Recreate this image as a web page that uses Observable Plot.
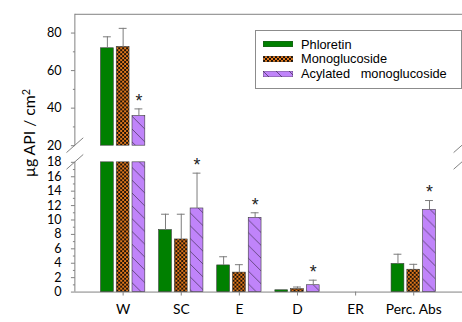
<!DOCTYPE html>
<html><head><meta charset="utf-8">
<script src="https://cdn.jsdelivr.net/npm/d3@7"></script>
<script src="https://cdn.jsdelivr.net/npm/@observablehq/plot@0.6"></script>
<style>
body{margin:0;overflow:hidden;background:#fff;width:462px;height:322px;position:relative}
#chart{position:absolute;left:0;top:0}
#legend{position:absolute;left:255px;top:30px;width:207px;height:59px;border:1px solid #8c8c8c;background:#fff;font-family:"Liberation Sans",Arial,sans-serif;font-size:12.8px;color:#000;box-sizing:border-box}
.row{position:absolute;left:7px;height:14px;display:flex;align-items:center;white-space:nowrap}
.sw{width:30px;height:6px;margin-right:8px;display:block}
</style></head><body>
<div id="chart"></div>
<div id="legend"></div>
<script>
const categories = ["W", "SC", "E", "D", "ER", "Perc. Abs"];
const seriesNames = ["Phloretin", "Monoglucoside", "Acylated monoglucoside"];
const phloretin = [71.9, 8.6, 3.7, 0.25, 0, 3.9];
const phloretinErr = [6.1, 2.2, 1.2, 0, 0, 1.35];
const monoglucoside = [72.6, 7.3, 2.7, 0.4, 0, 3.1];
const monoglucosideErr = [9.9, 3.5, 1.1, 0.3, 0, 0.75];
const acylated = [35.8, 11.6, 10.3, 0.95, 0, 11.4];
const acylatedErr = [3.8, 4.9, 0.7, 0.7, 0, 1.3];
const significant = [true, true, true, true, false, true];
const yTickLabels = [0, 2, 4, 6, 8, 10, 12, 14, 16, 18, 20, 40, 60, 80];
const yMinorTicks = [1, 3, 5, 7, 9, 11, 13, 15, 17, 30, 50, 70];
const breakLow = 18, breakHigh = 20, yMax = 90;

const seriesValues = [phloretin, monoglucoside, acylated];
const seriesErrs = [phloretinErr, monoglucosideErr, acylatedErr];
const fills = ["#008000", "url(#checker)", "url(#hatch)"];
const offsets = [-16, 0, 16];

const marks = [];
seriesValues.forEach((vals, s) => {
  const rows = categories.map((c, i) => ({cat: c, v: vals[i], err: seriesErrs[s][i], sig: significant[i]}));
  const low = rows.filter(d => d.v > 0).map(d => ({cat: d.cat, y1: 0, y2: Math.min(d.v, breakLow)}));
  const high = rows.filter(d => d.v > breakHigh).map(d => ({cat: d.cat, y1: breakHigh, y2: d.v}));
  const common = {x: "cat", y1: "y1", y2: "y2", dx: offsets[s], insetLeft: 23, insetRight: 23, fill: fills[s], stroke: "#3a3a3a", strokeWidth: 0.6};
  marks.push(Plot.barY(low, common));
  marks.push(Plot.barY(high, common));
  const errRows = rows.filter(d => d.err > 0);
  marks.push(Plot.ruleX(errRows, {x: "cat", y1: "v", y2: d => d.v + d.err, dx: offsets[s], stroke: "#7a7a7a", strokeWidth: 1}));
  marks.push(Plot.tickY(errRows, {x: "cat", y: d => d.v + d.err, dx: offsets[s], insetLeft: 25.5, insetRight: 25.5, stroke: "#7a7a7a", strokeWidth: 1}));
  if (s === 2) {
    marks.push(Plot.text(rows.filter(d => d.sig && d.v > 0), {x: "cat", y: d => d.v + d.err, dx: offsets[s], dy: -8, text: () => "*", fontSize: 18, fontFamily: "Liberation Sans", fill: "#222"}));
  }
});

const chart = Plot.plot({
  width: 469, height: 322,
  marginLeft: 76, marginRight: 0, marginTop: 14, marginBottom: 26,
  style: {fontFamily: "Lato, sans-serif", fontSize: "12.5px", background: "white"},
  x: {type: "band", domain: categories, range: [93.5, 450.5], padding: 0},
  y: {type: "linear", domain: [0, breakLow, breakHigh, yMax], range: [296, 164.3, 147.4, 14]},
  marks: [
    Plot.ruleY([0, yMax], {stroke: "#808080"}),
    ...marks,
    Plot.axisX({tickSize: 4, tickPadding: 8, fontSize: 14, label: null, stroke: "#808080"}),
    Plot.axisY({ticks: yTickLabels, tickSize: 4, tickPadding: 10, fontSize: 12.8, stroke: "#808080", label: null}),
    Plot.axisY({ticks: yMinorTicks, tickSize: 2, tickFormat: () => "", stroke: "#808080", label: null})
  ]
});
document.getElementById("chart").appendChild(chart);

const svg = d3.select(chart);

// y-axis title (real text) with superscript
const yTitle = svg.append("text")
  .attr("transform", "translate(36,180) rotate(-90)")
  .attr("text-anchor", "start")
  .attr("font-family", "Lato, sans-serif")
  .attr("font-size", 16)
  .attr("fill", "#000");
yTitle.append("tspan").text("µg API / cm");
yTitle.append("tspan").attr("font-size", 11).attr("dy", -6).text("2");

// patterns
const defs = svg.insert("defs", ":first-child");
const chk = defs.append("pattern").attr("id", "checker").attr("patternUnits", "userSpaceOnUse").attr("width", 4).attr("height", 4);
chk.append("rect").attr("width", 4).attr("height", 4).attr("fill", "#e2781c");
chk.append("rect").attr("width", 2).attr("height", 2).attr("fill", "#1c1208");
chk.append("rect").attr("x", 2).attr("y", 2).attr("width", 2).attr("height", 2).attr("fill", "#1c1208");
const hat = defs.append("pattern").attr("id", "hatch").attr("patternUnits", "userSpaceOnUse").attr("width", 13).attr("height", 13);
hat.append("rect").attr("width", 13).attr("height", 13).attr("fill", "#c084fa");
hat.append("path").attr("d", "M-1,-1L14,14M-1,12L1,14M12,-1L14,1").attr("stroke", "#5b4278").attr("stroke-width", 0.9);

// broken axis lines and break marks, positioned with Plot's own y scale
const ys = chart.scale("y");
const y = v => ys.apply(v);
const xl = 76, xr = 469;
const g = svg.append("g").attr("stroke", "#808080").attr("fill", "none").attr("stroke-width", 1);
g.append("line").attr("x1", xl).attr("x2", xl).attr("y1", y(0)).attr("y2", y(breakLow));
g.append("line").attr("x1", xl).attr("x2", xl).attr("y1", y(breakHigh)).attr("y2", y(yMax));
for (const xx of [xl, xr]) {
  for (const v of [breakLow, breakHigh]) {
    const yy = y(v);
    g.append("line").attr("x1", xx - 8.5).attr("y1", yy + 7.5).attr("x2", xx + 8.5).attr("y2", yy - 7.5);
  }
}

// legend
const legend = document.getElementById("legend");
const tops = [6.2, 20.8, 35.8];
seriesNames.forEach((name, s) => {
  const row = document.createElement("div");
  row.className = "row";
  row.style.top = tops[s] + "px";
  row.innerHTML = `<svg class="sw" width="30" height="6"><rect width="30" height="6" fill="${fills[s]}" stroke="#3a3a3a" stroke-width="0.6"/></svg><span style="word-spacing:${s === 2 ? 7 : 0}px">${name}</span>`;
  legend.appendChild(row);
});
</script>
</body></html>
